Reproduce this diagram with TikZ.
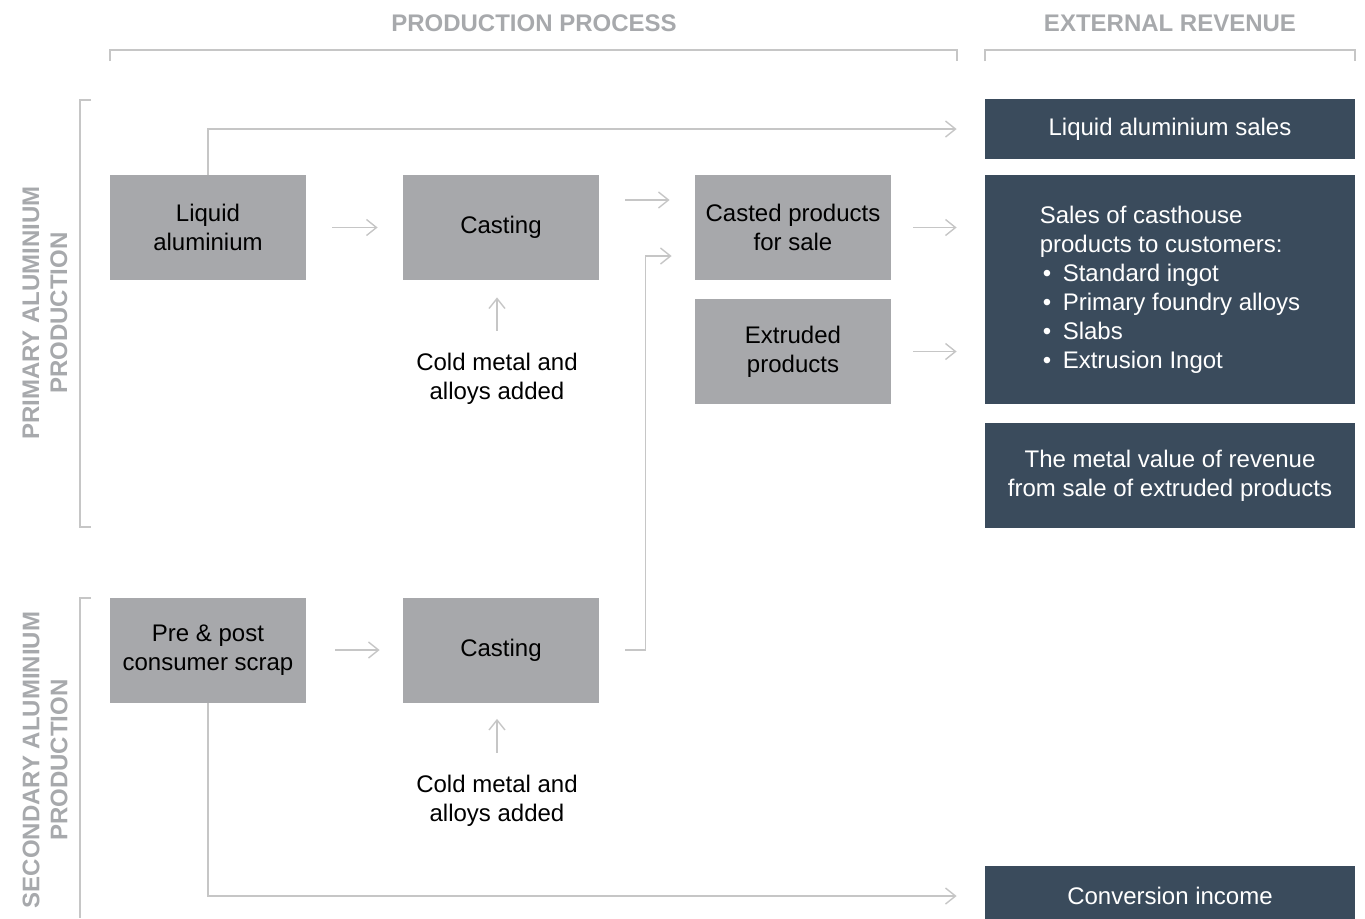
\documentclass[tikz,border=0pt]{standalone}
\usepackage{fontspec}
\setmainfont{Liberation Sans}
\usetikzlibrary{arrows.meta}
\definecolor{boxgray}{HTML}{A7A8AB}
\definecolor{navy}{HTML}{3A4B5C}
\definecolor{headgray}{HTML}{A7A9AC}
\definecolor{linegray}{HTML}{C6C6C6}
\newcommand{\bul}{\makebox[11.5pt][l]{\hspace{1.5pt}\textbullet}}
\begin{document}
\begin{tikzpicture}[x=0.5pt, y=-0.5pt,
    every node/.style={font=\fontsize{12}{14.5}\selectfont},
    stepbox/.style={fill=boxgray, minimum width=98pt, minimum height=52.5pt, align=center, inner sep=0pt},
    revbox/.style={fill=navy, text=white, minimum width=185pt, align=center, inner sep=0pt},
    flow/.style={draw=linegray, line width=0.7pt, -{Straight Barb[length=5pt,width=8pt]}},
    bracket/.style={draw=linegray, line width=0.7pt},
    head/.style={text=headgray, align=center, font=\bfseries\fontsize{12}{14}\selectfont}]
  \useasboundingbox (0,0) rectangle (1365,918);

  % 1. headers and brackets
  \node[head] (hdprod) at (534,23) {PRODUCTION PROCESS};
  \node[head] (hdext) at (1170,23) {EXTERNAL REVENUE};
  \node[head, rotate=90] (hdprim) at (45,313) {PRIMARY ALUMINIUM\\PRODUCTION};
  \node[head, rotate=90] (hdsec) at (45,760) {SECONDARY ALUMINIUM\\PRODUCTION};
  \draw[bracket] (110,61) -- (110,50) -- (957,50) -- (957,61);
  \draw[bracket] (985,61) -- (985,50) -- (1355,50) -- (1355,61);
  \draw[bracket] (91,100) -- (80,100) -- (80,527) -- (91,527);
  \draw[bracket] (91,598) -- (80,598) -- (80,918);

  % 2. production steps
  \node[stepbox] (la) at (208,227.5) {Liquid\\aluminium};
  \node[stepbox] (cast1) at (501,227.5) {Casting};
  \node[stepbox] (casted) at (793,227.5) {Casted products\\for sale};
  \node[stepbox] (extr) at (793,351.5) {Extruded\\products};
  \node[stepbox] (scrap) at (208,650) {Pre \& post\\consumer scrap};
  \node[stepbox] (cast2) at (501,650) {Casting};
  \node[align=center, inner sep=0pt] (cold1) at (497,379) {Cold metal and\\alloys added};
  \node[align=center, inner sep=0pt] (cold2) at (497,801) {Cold metal and\\alloys added};

  % 3. external revenue
  \node[revbox, minimum height=30pt] (lsales) at (1170,129) {Liquid aluminium sales};
  \node[revbox, minimum height=114.5pt, align=left] (sales) at (1170,289.5)
    {Sales of casthouse\\products to customers:\\\bul Standard ingot\\\bul Primary foundry alloys\\\bul Slabs\\\bul Extrusion Ingot};
  \node[revbox, minimum height=52.5pt] (metal) at (1170,475.5) {The metal value of revenue\\from sale of extruded products};
  \node[revbox, minimum height=30pt] (conv) at (1170,896) {Conversion income};

  % 4. flows
  \draw[flow, shorten >=14pt] (la.north) |- (lsales.west);
  \draw[flow, shorten <=13pt, shorten >=12.5pt] (la) -- (cast1);
  \draw[flow, shorten <=13pt, shorten >=12.5pt] ([yshift=13.75pt]cast1.east) -- ([yshift=13.75pt]casted.west);
  \draw[flow, shorten <=11pt, shorten >=14pt] (casted.east) -- (casted.east -| sales.west);
  \draw[flow, shorten <=11pt, shorten >=14pt] (extr.east) -- (extr.east -| sales.west);
  \draw[flow, shorten <=11pt, shorten >=8.5pt] (cold1.north) -- (cold1.north |- cast1.south);
  \draw[flow, shorten <=14.5pt, shorten >=11.5pt] (scrap) -- (cast2);
  \draw[flow, shorten >=11.5pt] ([xshift=13pt]cast2.east) -- ++(20,0) |- ([yshift=-14.25pt]casted.west);
  \draw[flow, shorten <=11pt, shorten >=8pt] (cold2.north) -- (cold2.north |- cast2.south);
  \draw[flow, shorten >=14pt] (scrap.south) |- (conv.west);
\end{tikzpicture}
\end{document}
